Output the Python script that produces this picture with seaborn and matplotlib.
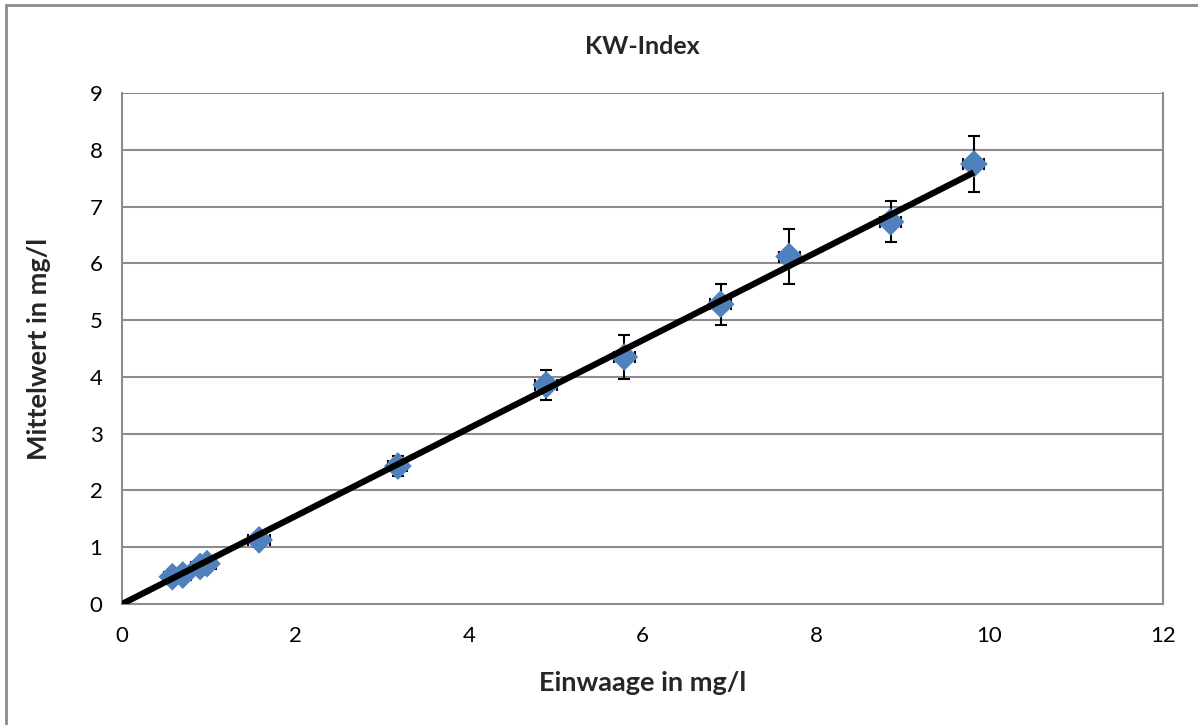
import numpy as np
import pandas as pd
import matplotlib
matplotlib.use("Agg")
import matplotlib.pyplot as plt
import seaborn as sns
from matplotlib.lines import Line2D

# Data
einwaage = [0.58, 0.70, 0.90, 0.98, 1.58, 3.18, 4.89, 5.79, 6.90, 7.69, 8.86, 9.82]
mittelwert = [0.48, 0.51, 0.66, 0.71, 1.13, 2.43, 3.86, 4.35, 5.28, 6.12, 6.73, 7.75]
y_err = [0.06, 0.06, 0.07, 0.07, 0.09, 0.18, 0.27, 0.38, 0.36, 0.48, 0.36, 0.50]
x_err = [0.10, 0.10, 0.10, 0.10, 0.13, 0.11, 0.13, 0.12, 0.12, 0.12, 0.12, 0.12]
trend_slope = 0.774
trend_intercept = 0.0
x_ticks = [0, 2, 4, 6, 8, 10, 12]
y_ticks = [0, 1, 2, 3, 4, 5, 6, 7, 8, 9]
title = "KW-Index"
x_label = "Einwaage in mg/l"
y_label = "Mittelwert in mg/l"

df = pd.DataFrame({"Einwaage": einwaage, "Mittelwert": mittelwert})

sns.set_theme(style="white")
plt.rcParams['font.family'] = ['Lato', 'DejaVu Sans']

fig = plt.figure(figsize=(11.98, 7.25), dpi=100)
ax = fig.add_axes([122/1198, 1-604/725, (1163-122)/1198, (604-93)/725])

grid_c = "#8c8c8c"

# error bars
ax.errorbar(einwaage, mittelwert, yerr=y_err, xerr=x_err, fmt='none',
            ecolor='black', elinewidth=1.5, capsize=4.5, capthick=1.5, zorder=3)
# markers
sns.scatterplot(data=df, x="Einwaage", y="Mittelwert", marker='D', s=200,
                color='#4F81BD', edgecolor='none', linewidth=0, ax=ax, zorder=4)
# trendline
tx = np.array([0.0, max(einwaage)])
trend_df = pd.DataFrame({"x": tx, "y": trend_slope * tx + trend_intercept})
sns.lineplot(data=trend_df, x="x", y="y", color='black', linewidth=4.5, ax=ax,
             zorder=5, solid_capstyle='butt')

ax.set_xlim(0, 12)
ax.set_ylim(0, 9)
ax.set_xticks(x_ticks)
ax.set_yticks(y_ticks)
ax.set_xticklabels([str(t) for t in x_ticks])
ax.set_yticklabels([str(t) for t in y_ticks])
ax.yaxis.grid(True, color=grid_c, linewidth=1.5)
ax.xaxis.grid(False)
for s in ax.spines.values():
    s.set_color(grid_c)
    s.set_linewidth(1.5)
ax.spines['top'].set_visible(False)
ax.tick_params(axis='both', which='major', length=6, width=1.5, color=grid_c,
               labelsize=16, labelcolor='black', direction='out')
ax.tick_params(axis='x', pad=10)
ax.tick_params(axis='y', pad=8)

ax.set_title(title, fontsize=18, fontweight='bold', pad=28)
ax.set_xlabel(x_label, fontsize=19.5, fontweight='bold', labelpad=18)
ax.set_ylabel(y_label, fontsize=19.5, fontweight='bold', labelpad=28)

# outer chart frame
fig.add_artist(Line2D([6/1198, 1.0], [1-5/725, 1-5/725], transform=fig.transFigure,
                      color=grid_c, linewidth=2))
fig.add_artist(Line2D([6/1198, 6/1198], [0.0, 1-5/725], transform=fig.transFigure,
                      color=grid_c, linewidth=2))

fig.savefig("out.png", dpi=100)
